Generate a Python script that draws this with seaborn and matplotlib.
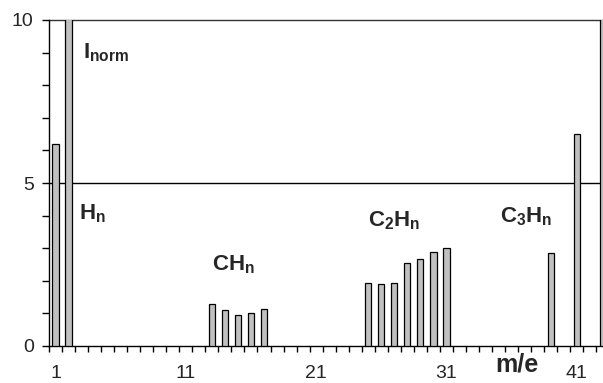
import matplotlib
matplotlib.use("Agg")
import matplotlib.pyplot as plt
import seaborn as sns
import pandas as pd
from matplotlib.ticker import FixedLocator, MultipleLocator

# data
mass = [1, 2, 13, 14, 15, 16, 17, 25, 26, 27, 28, 29, 30, 31, 39, 41, 43]
intensity = [6.2, 10.5, 1.28, 1.09, 0.94, 1.02, 1.13, 1.94, 1.91, 1.94,
             2.56, 2.67, 2.87, 3.02, 2.84, 6.5, 10.5]
xtick_labels = [1, 11, 21, 31, 41]
ytick_values = [0, 5, 10]
group_labels = [r"$\mathbf{H_n}$", r"$\mathbf{CH_n}$", r"$\mathbf{C_2H_n}$", r"$\mathbf{C_3H_n}$"]
group_pos = [(2.8, 3.89), (13.0, 2.33), (25.0, 3.66), (35.1, 3.78)]

sns.set_style("white")
plt.rcParams["font.family"] = ["Liberation Sans", "DejaVu Sans"]
plt.rcParams["mathtext.fontset"] = "custom"
plt.rcParams["mathtext.rm"] = "Liberation Sans"
plt.rcParams["mathtext.bf"] = "Liberation Sans:bold"
plt.rcParams["mathtext.it"] = "Liberation Sans:italic"

df = pd.DataFrame({"m/e": mass, "I": intensity})

W, H = 603, 383
fig = plt.figure(figsize=(W / 100, H / 100), dpi=100)
left, bottom, top = 49, 346, 20
xmax = 43.6
ppu = 13.03
axw = (xmax - 0.5) * ppu
ax = fig.add_axes([left / W, 1 - bottom / H, axw / W, (bottom - top) / H])

sns.barplot(data=df, x="m/e", y="I", native_scale=True, width=0.48,
            color="#c0c0c0", edgecolor="black", linewidth=0.9, saturation=1,
            ax=ax, zorder=3)

ax.set_xlim(0.5, xmax)
ax.set_ylim(0, 10)

for s in ["top", "right"]:
    ax.spines[s].set_visible(False)
for s in ["left", "bottom"]:
    ax.spines[s].set_color("black")
    ax.spines[s].set_linewidth(1)

ax.axhline(5, color="black", lw=1, zorder=2)
ax.axhline(10, color="#333333", lw=1, zorder=2, clip_on=False)

ax.xaxis.set_major_locator(FixedLocator(xtick_labels))
ax.set_xticklabels([str(v) for v in xtick_labels])
ax.xaxis.set_minor_locator(FixedLocator([i + 0.5 for i in range(0, 44)]))
ax.tick_params(axis="x", which="major", length=0, pad=14, labelsize=14)
ax.tick_params(axis="x", which="minor", length=4.5, width=1, direction="out",
               color="black", bottom=True)

ax.yaxis.set_major_locator(FixedLocator(ytick_values))
ax.yaxis.set_minor_locator(MultipleLocator(1))
ax.tick_params(axis="y", which="both", length=5, width=1, direction="out",
               color="black", left=True, labelsize=14, pad=6)
ax.set_xlabel("")
ax.set_ylabel("")

ax.text(3.1, 8.83, r"$\mathbf{I_{norm}}$", fontsize=16, ha="left", va="baseline")
for lab, (x, y) in zip(group_labels, group_pos):
    ax.text(x, y, lab, fontsize=16, ha="left", va="baseline")

fig.text(495 / W, 1 - 372 / H, "m/e", fontsize=18, fontweight="bold",
         ha="left", va="baseline")

fig.savefig("out.png", dpi=100)
